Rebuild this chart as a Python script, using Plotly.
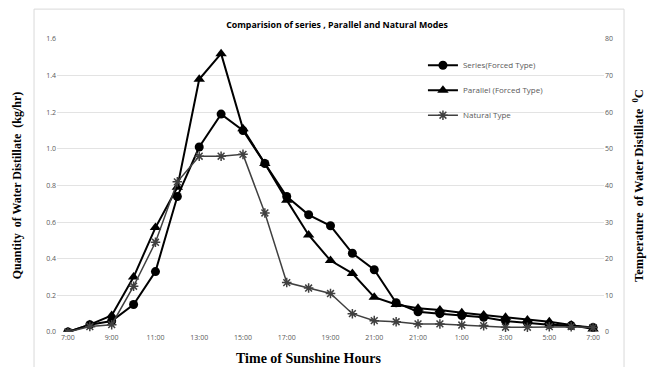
import plotly.graph_objects as go

hours = list(range(25))
tick_labels = ["7:00", "9:00", "11:00", "13:00", "15:00", "17:00", "19:00",
               "21:00", "21:00", "1:00", "3:00", "5:00", "7:00"]
tick_positions = hours[::2]

series_forced = [0.00, 0.04, 0.06, 0.15, 0.33, 0.74, 1.01, 1.19, 1.10, 0.92,
                 0.74, 0.64, 0.58, 0.43, 0.34, 0.16, 0.11, 0.10, 0.09, 0.08,
                 0.06, 0.05, 0.04, 0.035, 0.025]
parallel_forced = [0.00, 0.04, 0.09, 0.30, 0.57, 0.79, 1.38, 1.52, 1.11, 0.92,
                   0.72, 0.53, 0.39, 0.32, 0.19, 0.15, 0.13, 0.12, 0.105, 0.093,
                   0.08, 0.066, 0.056, 0.038, 0.016]
natural = [0.00, 0.03, 0.04, 0.25, 0.49, 0.82, 0.96, 0.96, 0.97, 0.65,
           0.27, 0.24, 0.21, 0.10, 0.062, 0.056, 0.044, 0.044, 0.038, 0.035,
           0.026, 0.026, 0.029, 0.029, 0.024]

fig = go.Figure()
fig.add_trace(go.Scatter(
    x=hours, y=series_forced, name="Series(Forced Type)", legendgroup="a",
    mode="lines+markers", line=dict(color="#000000", width=2),
    marker=dict(symbol="circle", size=9, color="#000000")))
fig.add_trace(go.Scatter(
    x=hours, y=parallel_forced, name="Parallel (Forced Type)", legendgroup="b",
    mode="lines+markers", line=dict(color="#000000", width=2),
    marker=dict(symbol="triangle-up", size=10, color="#000000")))
fig.add_trace(go.Scatter(
    x=hours, y=natural, name="Natural Type", legendgroup="c",
    mode="lines+markers", line=dict(color="#404040", width=1.5),
    marker=dict(symbol="asterisk-open", size=8, color="#404040",
                line=dict(color="#404040", width=1.5))))
fig.add_trace(go.Scatter(x=[None], y=[None], yaxis="y2", showlegend=False,
                         hoverinfo="skip"))

tick_font = dict(family="Open Sans, Arial", size=7, color="#595959")
title_font = dict(family="Liberation Serif, Times New Roman", size=12, color="#000000")

fig.update_layout(
    width=658, height=367,
    margin=dict(l=49, r=62, t=31, b=43, autoexpand=False),
    paper_bgcolor="white", plot_bgcolor="white",
    title=dict(text="<b>Comparision of series , Parallel and Natural Modes</b>",
               x=0.5, xanchor="center", y=0.955, yanchor="middle",
               font=dict(family="Open Sans, Arial", size=8.8, color="#000000")),
    xaxis=dict(range=[-0.5, 24.5], tickvals=tick_positions, ticktext=tick_labels,
               tickfont=tick_font, showgrid=False, zeroline=False, showline=False,
               ticks="", automargin=False),
    yaxis=dict(range=[0, 1.6], dtick=0.2, tickformat=".1f", tickfont=tick_font,
               showgrid=True, gridcolor="#e3e3e3", gridwidth=1, zeroline=False,
               showline=False, ticks="", automargin=False,
               title=dict(text="<b>Quantity  of Water Distillate  (kg/hr)</b>",
                          font=title_font, standoff=21)),
    yaxis2=dict(range=[0, 80], dtick=10, overlaying="y", side="right",
                tickfont=tick_font, showgrid=False, zeroline=False, showline=False,
                ticks="", automargin=False,
                title=dict(text="<b>Temperature  of Water Distillate  <sup>0</sup>C</b>",
                           font=dict(family="Liberation Serif, Times New Roman",
                                     size=12.5, color="#000000"),
                           standoff=22)),
    legend=dict(x=0.669, y=0.96, xanchor="left", yanchor="top",
                bgcolor="rgba(0,0,0,0)", itemwidth=30, tracegroupgap=6,
                font=dict(family="Open Sans, Arial", size=8, color="#595959")),
    showlegend=True,
    annotations=[dict(text="<b>Time of Sunshine Hours</b>", xref="paper", yref="paper",
                      x=0.459, y=-0.089, xanchor="center", yanchor="middle",
                      showarrow=False,
                      font=dict(family="Liberation Serif, Times New Roman",
                                size=14, color="#000000"))],
    shapes=[dict(type="rect", xref="paper", yref="paper",
                 x0=-0.042, x1=1.0366, y0=-0.14, y1=1.102,
                 line=dict(color="#d9d9d9", width=1), layer="below")],
)

fig.write_html("out.html")
